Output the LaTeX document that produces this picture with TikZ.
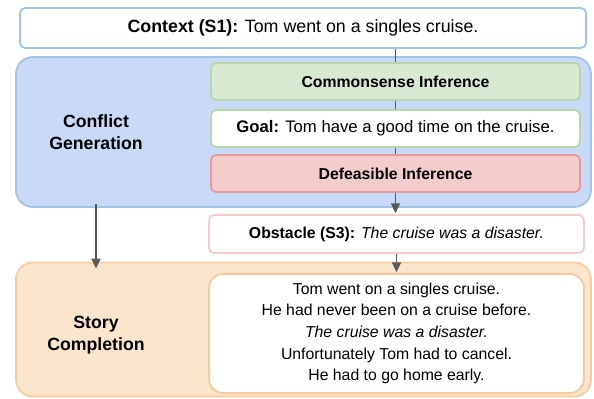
\documentclass[tikz,border=0pt]{standalone}
\usepackage{fontspec}
\setmainfont{Liberation Sans}
\usetikzlibrary{arrows.meta}
\definecolor{blueF}{HTML}{C9DAF8}
\definecolor{blueD}{HTML}{9FC5E8}
\definecolor{greenF}{HTML}{D9EAD3}
\definecolor{greenD}{HTML}{B6D7A8}
\definecolor{redF}{HTML}{F4CCCC}
\definecolor{redD}{HTML}{EA9999}
\definecolor{orangeF}{HTML}{FCE5CD}
\definecolor{orangeD}{HTML}{F9CB9C}
\definecolor{lineC}{HTML}{595959}
\begin{document}
\begin{tikzpicture}[x=1bp,y=-1bp,
  box/.style={draw, line width=1.8bp, rounded corners=5bp, inner sep=0pt, align=center},
  bigbox/.style={box, rounded corners=17bp},
  txt/.style={font=\fontsize{15.8bp}{21.7bp}\selectfont},
  side/.style={font=\fontsize{17.7bp}{22bp}\selectfont\bfseries, align=center},
  conn/.style={draw=lineC, line width=1.8bp},
  arr/.style={conn, -{Triangle[length=10bp,width=9bp]}, shorten >=0.8bp}]
\useasboundingbox (0,0) rectangle (594,398);
% big panels
\node[bigbox, draw=blueD, fill=blueF, minimum width=575bp, minimum height=150bp] (cg) at (303.5,132) {};
\node[bigbox, draw=orangeD, fill=orangeF, minimum width=575bp, minimum height=134bp] (sc) at (303.5,329.5) {};
% side labels
\node[side] (cglbl) at (96,132) {Conflict\\Generation};
\node[side] (sclbl) at (96,335) {Story\\Completion};
% boxes
\node[box, draw=blueD, fill=white, minimum width=566bp, minimum height=40bp, font=\fontsize{17.8bp}{21bp}\selectfont] (ctx) at (303,28) {\textbf{Context (S1):} Tom went on a singles cruise.};
\node[box, draw=greenD, fill=greenF, minimum width=369bp, minimum height=37bp, txt] (cs) at (395.5,81.5) {\textbf{Commonsense Inference}};
\node[box, draw=greenD, fill=white, minimum width=369bp, minimum height=37bp, font=\fontsize{16.7bp}{20bp}\selectfont] (goal) at (395.5,128.5) {\textbf{Goal:} Tom have a good time on the cruise.};
\node[box, draw=redD, fill=redF, minimum width=369bp, minimum height=37bp, txt] (def) at (395.5,173.5) {\textbf{Defeasible Inference}};
\node[box, draw=redF, fill=white, minimum width=375bp, minimum height=38bp, txt] (obs) at (396.5,234) {\textbf{Obstacle (S3):} \textit{The cruise was a disaster.}};
\node[box, draw=orangeD, fill=white, rounded corners=14bp, minimum width=375bp, minimum height=119bp, txt] (story) at (396.5,333.5) {Tom went on a singles cruise.\\He had never been on a cruise before.\\\textit{The cruise was a disaster.}\\Unfortunately Tom had to cancel.\\He had to go home early.};
% connectors
\draw[conn] (cs.north |- ctx.south) -- (cs.north);
\draw[conn] (cs.south) -- (goal.north);
\draw[conn] (goal.south) -- (def.north);
\draw[arr] (def.south) -- (def.south |- obs.north);
\draw[arr] (obs.south) -- (obs.south |- story.north);
\coordinate (sctop) at ([yshift=-7bp]sc.north -| cglbl);
\draw[arr, shorten >=0bp] ([yshift=4bp]cg.south -| cglbl) -- (sctop);
\end{tikzpicture}
\end{document}
